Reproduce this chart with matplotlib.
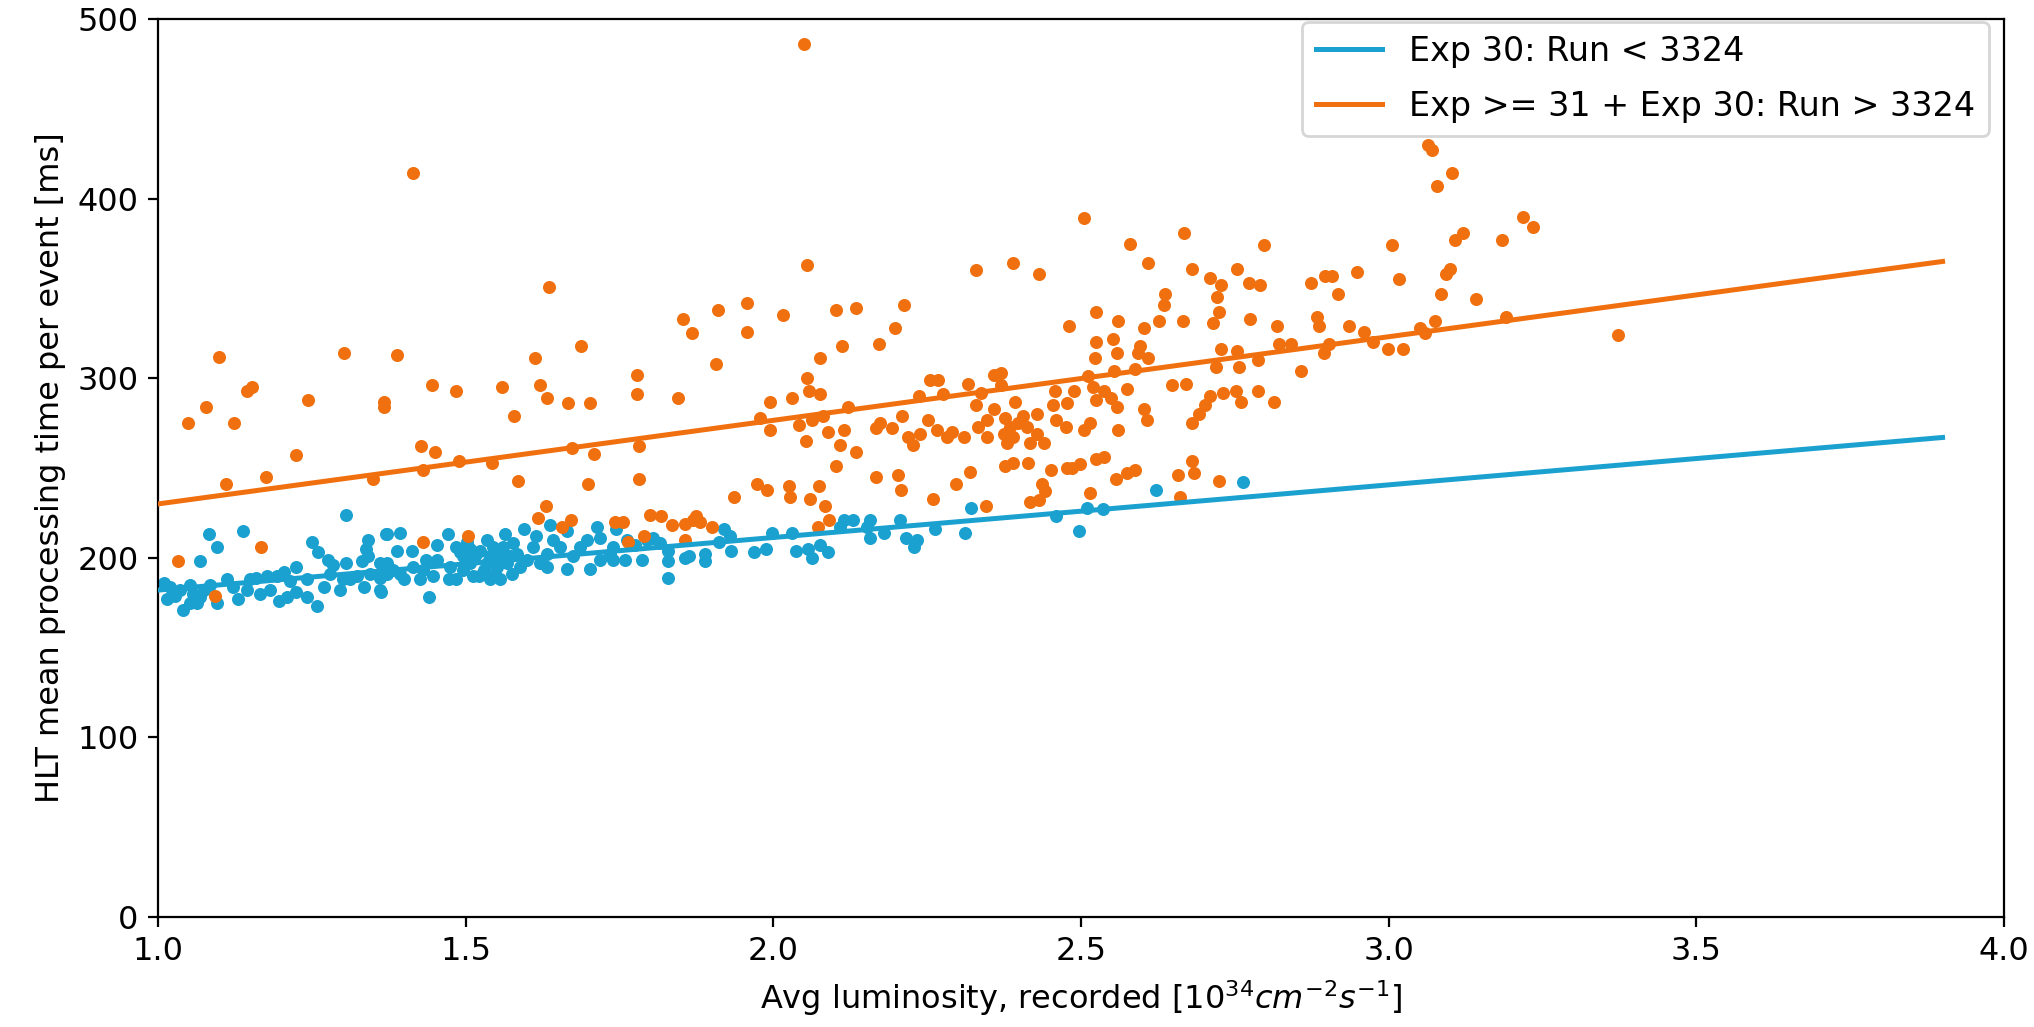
import matplotlib
matplotlib.use("Agg")
import matplotlib.pyplot as plt

# ---------------- data ----------------
blue_x = [1.305, 1.082, 1.138, 1.096, 1.068, 1.251, 1.26, 1.342, 1.338, 1.371, 1.277, 1.285, 1.305, 1.331, 1.342,
          1.009, 1.014, 1.041, 1.052, 1.063, 1.036, 1.095, 1.112, 1.13, 1.144, 1.16, 1.177, 1.196, 1.209, 1.225,
          1.242, 1.258, 1.242, 1.225, 1.269, 1.296, 1.312, 1.334, 1.361, 1.366, 1.345,
          1.02, 1.028, 1.057, 1.074, 1.085, 1.122, 1.15, 1.166, 1.182, 1.193, 1.204, 1.215, 1.28, 1.301, 1.323,
          1.361, 1.372, 1.052, 1.068,
          1.372, 1.394, 1.388, 1.412, 1.44, 1.472, 1.453, 1.473, 1.363, 1.361, 1.382, 1.399, 1.415, 1.431, 1.447,
          1.453, 1.485, 1.496, 1.507, 1.496, 1.521, 1.534, 1.54, 1.551, 1.556, 1.564, 1.561, 1.575, 1.572, 1.583,
          1.594, 1.599, 1.61, 1.615, 1.621, 1.632, 1.637, 1.642, 1.632, 1.653, 1.664, 1.664, 1.675, 1.686, 1.697,
          1.702, 1.713, 1.718, 1.718, 1.735, 1.74, 1.507, 1.523, 1.556, 1.534, 1.512,
          1.491, 1.502, 1.515, 1.529, 1.545, 1.548, 1.567, 1.577, 1.588, 1.54, 1.485, 1.475, 1.426, 1.394, 1.372, 1.436,
          1.745, 1.762, 1.775, 1.74, 1.759, 1.787, 1.794, 1.805, 1.816, 1.829, 1.828, 1.828, 1.856, 1.863, 1.889,
          1.889, 1.911, 1.92, 1.931, 1.93, 1.968, 1.988, 1.997, 2.031, 2.037, 2.057, 2.062, 2.075, 2.089, 2.114,
          2.13, 2.157, 2.152, 2.157, 2.18, 2.206, 2.216, 2.233, 2.229, 2.262, 2.311, 2.321, 2.46, 2.496, 2.509, 2.108,
          2.536, 2.621, 2.763]
blue_y = [224, 213, 215, 206, 198, 209, 203, 210, 205, 213, 199, 196, 197, 198, 201,
          186, 177, 171, 185, 175, 182, 175, 188, 177, 182, 189, 190, 176, 178, 195,
          188, 173, 178, 181, 184, 182, 188, 184, 182, 191, 191,
          184, 179, 180, 182, 185, 184, 188, 180, 182, 190, 192, 187, 191, 188, 190,
          189, 197, 175, 178,
          213, 214, 204, 204, 178, 213, 207, 188, 181, 197, 193, 188, 195, 193, 190,
          199, 206, 201, 197, 193, 190, 210, 201, 195, 188, 213, 206, 191, 201, 202,
          216, 199, 206, 212, 197, 202, 218, 210, 195, 206, 215, 194, 201, 206, 210,
          194, 217, 211, 199, 202, 206, 205, 204, 202, 197, 190,
          203, 209, 201, 193, 206, 191, 197, 208, 195, 188, 188, 195, 188, 191, 191, 199,
          216, 210, 207, 199, 199, 199, 210, 211, 208, 204, 198, 189, 200, 201, 202,
          198, 209, 216, 204, 212, 203, 205, 214, 214, 204, 205, 200, 207, 203, 221,
          221, 221, 217, 211, 214, 221, 211, 210, 206, 216, 214, 228, 223, 215, 228, 217,
          227, 238, 242]

orange_x = [1.415, 1.636, 1.099, 1.303, 1.388, 1.687, 1.613, 1.048, 1.078, 1.123, 1.145, 1.152, 1.243, 1.367, 1.367,
            1.446, 1.485, 1.559, 1.62, 1.632, 1.579, 1.667, 1.702, 1.225, 1.427, 1.45, 1.673, 1.709, 1.11, 1.175,
            1.349, 1.431, 1.489, 1.542, 1.585, 1.698, 1.63, 1.617, 1.671, 1.657, 1.504, 1.431, 1.167, 1.033, 1.092,
            2.049,
            2.055, 2.33, 2.389, 2.432, 1.957, 1.91, 1.853, 2.015, 2.101, 2.134, 2.213, 1.867, 1.957, 2.198, 2.112,
            2.172, 1.907, 2.075, 1.778, 1.778, 1.845, 2.054, 2.058, 2.076, 1.995, 2.031, 1.979, 1.995, 2.042, 2.062,
            2.081, 2.121, 2.088, 2.115, 2.053, 2.109, 2.134, 1.782, 1.782, 2.102, 1.973, 1.989, 2.026, 2.027, 2.074,
            1.936, 2.06, 2.084, 2.091, 2.073, 1.743, 1.756, 1.8, 1.818, 1.836, 1.856, 1.869, 1.874, 1.881, 1.9,
            1.789, 1.764, 1.856, 2.166, 2.203, 2.207, 2.167, 2.173, 2.192, 2.209, 2.236, 2.255, 2.268, 2.275, 2.316,
            2.338, 2.359, 2.37, 2.37, 2.252, 2.219, 2.227, 2.239, 2.266, 2.282, 2.29, 2.309, 2.329, 2.332, 2.347,
            2.347, 2.359, 2.377, 2.374, 2.379, 2.393, 2.406, 2.412, 2.417, 2.428, 2.428, 2.39, 2.398, 2.385, 2.32,
            2.297, 2.26, 2.345, 2.376, 2.39, 2.414, 2.417, 2.431,
            3.064, 3.07, 3.102, 3.079, 2.505, 2.668, 2.58, 2.797, 3.006, 3.12, 3.108, 2.608, 2.681, 2.71, 2.728,
            2.754, 2.773, 2.79, 2.874, 2.897, 2.907, 2.948, 3.017, 3.1, 3.093, 3.142, 3.085, 2.917, 2.636, 2.634,
            2.721, 2.525, 2.724, 2.481, 2.56, 2.626, 2.666, 2.715, 2.775, 2.603, 2.818, 2.884, 2.886, 2.936, 2.959,
            3.075, 3.05, 3.059, 2.524, 2.552, 2.596, 2.523, 2.558, 2.593, 2.609, 2.727, 2.754, 2.822, 2.841, 2.903,
            2.895, 2.975, 2.998, 3.023, 2.511, 2.554, 2.588, 2.719, 2.757, 2.787, 2.857, 2.458, 2.489, 2.52, 2.537,
            2.574, 2.647, 2.67, 2.731, 2.752, 2.788, 2.71, 2.76, 2.814, 2.525, 2.549, 2.558, 2.702, 2.691, 2.68,
            2.603, 2.607, 2.477, 2.455, 2.46, 2.475, 2.504, 2.515, 2.56, 2.439, 2.451, 2.477, 2.485, 2.499, 2.525,
            2.537, 2.557, 2.574, 2.588, 2.436, 2.441, 2.515, 2.657, 2.684, 2.68, 2.724, 2.66,
            3.218, 3.235, 3.184, 3.191, 3.373]
orange_y = [414, 351, 312, 314, 313, 318, 311, 275, 284, 275, 293, 295, 288, 287, 284,
            296, 293, 295, 296, 289, 279, 286, 286, 257, 262, 259, 261, 258, 241, 245,
            244, 249, 254, 253, 243, 241, 229, 222, 221, 217, 212, 209, 206, 198, 179,
            486,
            363, 360, 364, 358, 342, 338, 333, 335, 338, 339, 341, 325, 326, 328, 318,
            319, 308, 311, 302, 291, 289, 300, 293, 291, 287, 289, 278, 271, 274, 277,
            279, 284, 270, 271, 265, 263, 259, 262, 244, 251, 241, 238, 240, 234, 240,
            234, 233, 229, 221, 217, 220, 220, 224, 223, 218, 219, 221, 223, 220, 217,
            212, 209, 210, 245, 246, 238, 272, 275, 272, 279, 290, 299, 299, 291, 297,
            292, 302, 303, 296, 277, 267, 263, 269, 271, 267, 270, 267, 285, 273, 277,
            267, 283, 278, 269, 264, 287, 279, 273, 264, 280, 269, 267, 275, 273, 248,
            241, 233, 229, 251, 253, 253, 231, 232,
            430, 427, 414, 407, 389, 381, 375, 374, 374, 381, 377, 364, 361, 356, 352,
            361, 353, 352, 353, 357, 357, 359, 355, 361, 358, 344, 347, 347, 347, 341,
            345, 337, 337, 329, 332, 332, 332, 331, 333, 328, 329, 334, 329, 329, 326,
            332, 328, 325, 320, 322, 318, 311, 314, 314, 311, 316, 315, 319, 319, 319,
            314, 320, 316, 316, 301, 304, 305, 306, 306, 310, 304, 293, 293, 295, 293,
            294, 296, 297, 292, 293, 293, 290, 287, 287, 288, 289, 284, 285, 280, 275,
            283, 277, 286, 285, 277, 273, 271, 275, 271, 264, 249, 250, 250, 252, 255,
            256, 244, 247, 249, 241, 237, 236, 246, 247, 254, 243, 234,
            390, 384, 377, 334, 324]

# fitted trend lines (end points)
fit_x = [1.0, 3.9]
blue_fit = [182, 267]
orange_fit = [230, 365]

labels = ["Exp 30: Run < 3324", "Exp >= 31 + Exp 30: Run > 3324"]
x_ticks = [1.0, 1.5, 2.0, 2.5, 3.0, 3.5, 4.0]
y_ticks = [0, 100, 200, 300, 400, 500]

# ---------------- plot ----------------
BLUE = "#1ba1cf"
ORANGE = "#f0700f"
FS = 11.5

fig = plt.figure(figsize=(10.17, 5.135), dpi=200)
ax = fig.add_axes([0.0777, 0.1071, 0.9076, 0.8744])

ax.scatter(blue_x, blue_y, s=22, color=BLUE, linewidths=0, zorder=2)
ax.scatter(orange_x, orange_y, s=22, color=ORANGE, linewidths=0, zorder=2)
ax.plot(fit_x, blue_fit, color=BLUE, lw=1.8, label=labels[0], zorder=3)
ax.plot(fit_x, orange_fit, color=ORANGE, lw=1.8, label=labels[1], zorder=3)

ax.set_xlim(1.0, 4.0)
ax.set_ylim(0, 500)
ax.set_xticks(x_ticks)
ax.set_yticks(y_ticks)
ax.tick_params(labelsize=FS)
ax.set_xlabel(r"Avg luminosity, recorded [$10^{34}cm^{-2}s^{-1}$]", fontsize=FS)
ax.set_ylabel("HLT mean processing time per event [ms]", fontsize=FS)
ax.legend(loc="upper right", bbox_to_anchor=(0.9916, 0.997), borderaxespad=0,
          fontsize=12, labelspacing=0.65)

fig.savefig("out.png", dpi=200)
